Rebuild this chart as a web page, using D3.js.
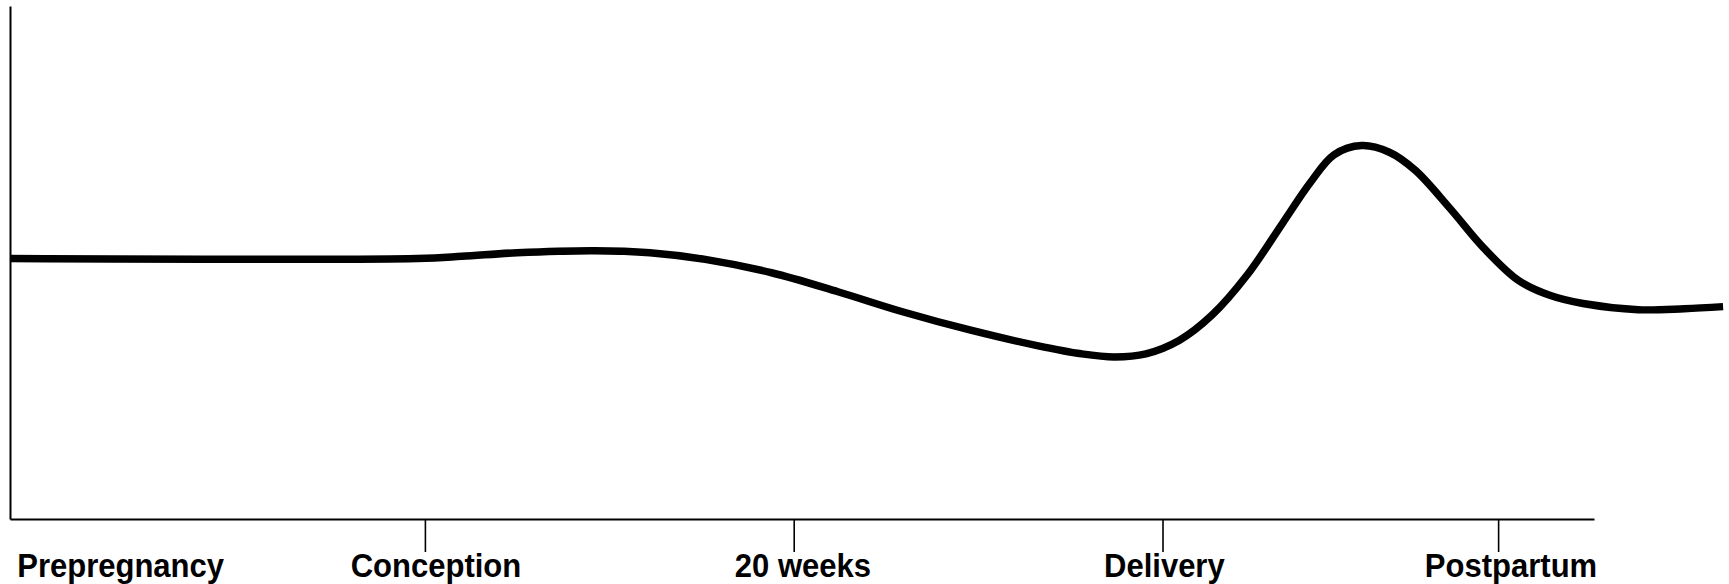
<!DOCTYPE html>
<html>
<head>
<meta charset="utf-8">
<script src="https://cdn.jsdelivr.net/npm/d3@7"></script>
<style>
  html, body { margin: 0; padding: 0; background: #fff; }
  svg { display: block; }
</style>
</head>
<body>
<svg id="chart" width="1729" height="584"></svg>
<script>
// Time in weeks relative to conception
const weeks = [-22.5, -0.4, 2.0, 5.0, 9.2, 12.2, 15.2, 18.8, 22.4, 25.9, 29.6, 33.2, 35.6, 37.4, 39.1, 40.9, 42.7, 44.6, 46.5, 48.0, 49.3, 50.8, 52.3, 53.7, 55.6, 57.4, 59.3, 61.0, 62.8, 65.8, 68.3, 70.4];
const level = [50.8, 50.8, 51.2, 51.9, 52.3, 51.9, 50.6, 48.0, 44.3, 40.4, 36.8, 33.8, 32.2, 31.6, 32.2, 34.8, 39.8, 47.6, 57.6, 65.5, 71.0, 72.8, 71.5, 68.0, 60.5, 52.9, 46.5, 43.6, 42.0, 40.8, 41.0, 41.4];
const tickWeeks = [0, 20, 40, 58.2];
const labelNames = ["Prepregnancy", "Conception", "20 weeks", "Delivery", "Postpartum"];
const labelWeeks = [-16.5, 0.6, 20.5, 40.1, 58.9];

const svg = d3.select("#chart");
const x = d3.scaleLinear().domain([-22.5, 63.4]).range([10, 1594]);
const y = d3.scaleLinear().domain([0, 100]).range([519, 6]);

// y axis line
svg.append("g")
  .attr("transform", `translate(${x(-22.5)},0)`)
  .call(d3.axisLeft(y).tickValues([]).tickSizeOuter(0))
  .call(g => g.select(".domain").attr("stroke", "#000").attr("stroke-width", 2));

// x axis
svg.append("g")
  .attr("transform", `translate(0,${y(0)})`)
  .call(d3.axisBottom(x).tickValues(tickWeeks).tickSize(33).tickSizeOuter(0).tickFormat(""))
  .call(g => g.select(".domain").attr("stroke", "#000").attr("stroke-width", 2))
  .call(g => g.selectAll(".tick line").attr("stroke", "#000").attr("stroke-width", 1.6));

// labels
svg.append("g").selectAll("text")
  .data(labelNames)
  .join("text")
  .attr("transform", (d, i) => `translate(${x(labelWeeks[i])},577) scale(0.94,1)`)
  .attr("text-anchor", "middle")
  .attr("font-family", "'Liberation Sans', Arial, Helvetica, sans-serif")
  .attr("font-weight", "bold")
  .attr("font-size", 33)
  .attr("fill", "#000")
  .text(d => d);

// curve
const data = weeks.map((w, i) => ({ w, v: level[i] }));
svg.append("path")
  .datum(data)
  .attr("fill", "none")
  .attr("stroke", "#000")
  .attr("stroke-width", 7.5)
  .attr("d", d3.line().x(d => x(d.w)).y(d => y(d.v)).curve(d3.curveCatmullRom.alpha(0.5)));
</script>
</body>
</html>
